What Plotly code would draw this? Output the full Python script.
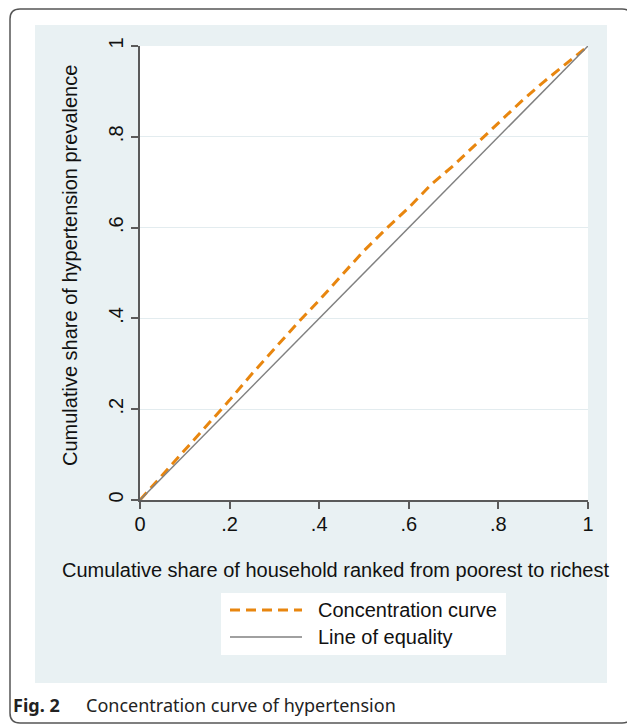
import plotly.graph_objects as go

# ---- data ----
household_share = [0, 0.05, 0.10, 0.15, 0.20, 0.25, 0.30, 0.35, 0.40, 0.45, 0.475,
                   0.50, 0.55, 0.60, 0.64, 0.65, 0.70, 0.75, 0.80, 0.85, 0.90, 0.95, 1.0]
hypertension_share = [0, 0.055, 0.110, 0.164, 0.220, 0.278, 0.334, 0.388, 0.440, 0.496, 0.522,
                      0.549, 0.598, 0.644, 0.683, 0.695, 0.737, 0.783, 0.831, 0.877, 0.920, 0.961, 1.0]
equality_x = [0, 1]
equality_y = [0, 1]
tick_vals = [0, 0.2, 0.4, 0.6, 0.8, 1]
tick_text = ["0", ".2", ".4", ".6", ".8", "1"]

W, H = 627, 724
L, R, T, B = 140, 39, 46, 224
PW, PH = W - L - R, H - T - B


def px(x):
    return (x - L) / PW


def py(y):
    return (H - B - y) / PH


ORANGE = "#E8860F"
GRAY = "#808080"
PANEL = "#E9F1F3"
FONT = "Liberation Sans, Arial, sans-serif"
FS = 20

fig = go.Figure()
fig.add_trace(go.Scatter(x=household_share, y=hypertension_share, mode="lines",
                         line=dict(color=ORANGE, width=3, dash="10px,6px"),
                         name="Concentration curve", showlegend=False, hoverinfo="skip"))
fig.add_trace(go.Scatter(x=equality_x, y=equality_y, mode="lines",
                         line=dict(color=GRAY, width=1.5),
                         name="Line of equality", showlegend=False, hoverinfo="skip"))

shapes = []
# outer rounded border
x0, y0, x1, y1 = px(10), py(9), px(632), py(723)
rx, ry = 10 / PW, 10 / PH
path = (f"M{x0},{y0 - ry} Q{x0},{y0} {x0 + rx},{y0} L{x1 - rx},{y0} Q{x1},{y0} {x1},{y0 - ry} "
        f"L{x1},{y1 + ry} Q{x1},{y1} {x1 - rx},{y1} L{x0 + rx},{y1} Q{x0},{y1} {x0},{y1 + ry} Z")
shapes.append(dict(type="path", path=path, xref="paper", yref="paper",
                   line=dict(color="#555555", width=1.5), fillcolor="rgba(0,0,0,0)", layer="below"))
# panel
shapes.append(dict(type="rect", xref="paper", yref="paper", x0=px(35), x1=px(607), y0=py(683), y1=py(25),
                   fillcolor=PANEL, line=dict(width=0), layer="below"))
# plot area
shapes.append(dict(type="rect", xref="paper", yref="paper", x0=0, x1=1, y0=0, y1=1,
                   fillcolor="white", line=dict(width=0), layer="below"))
# legend box
shapes.append(dict(type="rect", xref="paper", yref="paper", x0=px(221), x1=px(506), y0=py(655), y1=py(593),
                   fillcolor="white", line=dict(width=0), layer="above"))
shapes.append(dict(type="line", xref="paper", yref="paper", x0=px(230), x1=px(302), y0=py(610), y1=py(610),
                   line=dict(color=ORANGE, width=3, dash="10px,6px"), layer="above"))
shapes.append(dict(type="line", xref="paper", yref="paper", x0=px(230), x1=px(302), y0=py(637), y1=py(637),
                   line=dict(color=GRAY, width=1.5), layer="above"))

annotations = [
    dict(text="Cumulative share of household ranked from poorest to richest", x=px(335), y=py(570),
         xref="paper", yref="paper", showarrow=False, xanchor="center", yanchor="middle",
         font=dict(family=FONT, size=FS, color="#111111")),
    dict(text="Cumulative share of hypertension prevalence", x=px(70), y=py(266),
         xref="paper", yref="paper", showarrow=False, xanchor="center", yanchor="middle", textangle=-90,
         font=dict(family=FONT, size=FS, color="#111111")),
    dict(text="Concentration curve", x=px(316), y=py(610), xref="paper", yref="paper", showarrow=False,
         xanchor="left", yanchor="middle", font=dict(family=FONT, size=FS, color="#111111")),
    dict(text="Line of equality", x=px(316), y=py(637), xref="paper", yref="paper", showarrow=False,
         xanchor="left", yanchor="middle", font=dict(family=FONT, size=FS, color="#111111")),
    dict(text="<b>Fig. 2</b>", x=px(11), y=py(705), xref="paper", yref="paper", showarrow=False,
         xanchor="left", yanchor="middle", font=dict(family="Noto Sans, sans-serif", size=18, color="#222222")),
    dict(text="Concentration curve of hypertension", x=px(84), y=py(705), xref="paper", yref="paper",
         showarrow=False, xanchor="left", yanchor="middle",
         font=dict(family="Noto Sans, sans-serif", size=18, color="#222222")),
]

fig.update_layout(
    width=W, height=H, margin=dict(l=L, r=R, t=T, b=B, pad=0),
    paper_bgcolor="white", plot_bgcolor="white",
    shapes=shapes, annotations=annotations, showlegend=False,
    font=dict(family=FONT, size=FS, color="#111111"),
)
fig.update_xaxes(range=[0, 1], tickvals=tick_vals, ticktext=tick_text, showgrid=False, zeroline=False,
                 showline=True, linecolor="#5a5a5a", linewidth=1.5, ticks="outside", ticklen=7,
                 tickcolor="#5a5a5a", tickwidth=1.5, ticklabelstandoff=-2,
                 tickfont=dict(family=FONT, size=FS, color="#111111"))
fig.update_yaxes(range=[0, 1], tickvals=tick_vals, ticktext=tick_text, showgrid=True, gridcolor="#E3ECEF",
                 gridwidth=1, zeroline=False, showline=True, linecolor="#5a5a5a", linewidth=1.5,
                 ticks="outside", ticklen=7, tickcolor="#5a5a5a", tickwidth=1.5, tickangle=-90,
                 ticklabelstandoff=0, tickfont=dict(family=FONT, size=FS, color="#111111"))

fig.write_html("out.html", config={"displayModeBar": False},
               post_script="document.body.style.margin='0';")
